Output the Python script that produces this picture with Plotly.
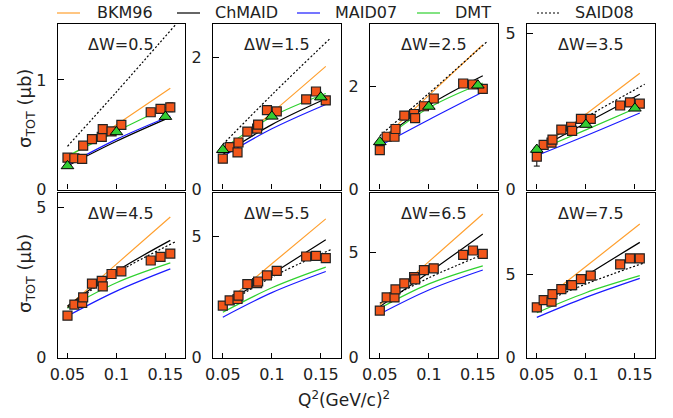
import plotly.graph_objects as go

W, H = 673, 418

# ---------------- data ----------------
q2_data = [0.050, 0.057, 0.065, 0.066, 0.075, 0.085, 0.086, 0.095, 0.105, 0.135, 0.145, 0.155]
q2_tri = [0.05, 0.10, 0.15]
q2_model = [0.05, 0.10, 0.155]
q2_said = [0.05, 0.10, 0.16]

dw_labels = ["ΔW=0.5", "ΔW=1.5", "ΔW=2.5", "ΔW=3.5", "ΔW=4.5", "ΔW=5.5", "ΔW=6.5", "ΔW=7.5"]
y_tops = [1.51, 2.5, 3.2, 5.3, 5.5, 6.8, 7.85, 9.9]
y_major = [1, 2, 2, 5, 5, 5, 5, 5]
model_names = ["BKM96", "ChMAID", "MAID07", "DMT", "SAID08"]

# measured cross sections (squares)
sig_dw05 = [0.29, 0.285, 0.28, 0.40, 0.46, 0.48, 0.55, 0.53, 0.59, 0.705, 0.735, 0.75]
sig_dw15 = [0.465, 0.64, 0.56, 0.71, 0.875, 0.92, 0.98, 1.20, 1.18, 1.36, 1.48, 1.345]
sig_dw25 = [0.76, 1.02, 1.02, 1.17, 1.43, 1.46, 1.38, 1.61, 1.76, 2.05, 2.03, 1.945]
sig_dw35 = [1.05, 1.43, 1.50, 1.60, 1.92, 2.01, 1.88, 2.26, 2.26, 2.69, 2.79, 2.75]
sig_dw45 = [1.40, 1.77, 1.83, 2.01, 2.47, 2.56, 2.38, 2.79, 2.88, 3.24, 3.36, 3.47]
sig_dw55 = [2.15, 2.36, 2.42, 2.56, 3.03, 3.07, 3.14, 3.39, 3.58, 4.17, 4.20, 4.10]
sig_dw65 = [2.24, 2.87, 2.87, 3.25, 3.54, 3.83, 3.73, 4.17, 4.25, 4.89, 5.10, 4.94]
sig_dw75 = [3.02, 3.46, 3.36, 3.82, 4.12, 4.36, 4.36, 4.72, 4.92, 5.60, 5.96, 5.96]

err_dw05 = [0, 0, 0, 0, 0, 0, 0, 0, 0, 0.03, 0.03, 0.04]
err_dw35 = [0.30, 0, 0, 0, 0, 0, 0, 0, 0, 0, 0, 0]
err_zero = [0] * 12

# other measurement (triangles), first row only
tri_dw05 = [0.215, 0.525, 0.665]
tri_dw15 = [0.60, 1.105, 1.395]
tri_dw25 = [0.92, 1.605, 2.015]
tri_dw35 = [1.28, 2.08, 2.60]

# model curves, values at q2_model (SAID08 at q2_said)
bkm96 = [[0.29, 0.59, 0.924], [0.55, 1.16, 1.86], [0.93, 1.82, 2.80], [1.24, 2.41, 3.72],
         [1.70, 3.12, 4.69], [2.18, 3.87, 5.72], [2.51, 4.57, 6.84], [3.16, 5.47, 8.02]]
chmaid = [[0.215, 0.44, 0.66], [0.53, 0.98, 1.37], [0.94, 1.63, 2.20], [1.28, 2.13, 3.05],
          [1.72, 2.88, 3.91], [2.18, 3.45, 4.86], [2.43, 4.05, 5.89], [3.02, 4.92, 6.92]]
maid07 = [[0.225, 0.457, 0.67], [0.50, 0.917, 1.285], [0.846, 1.35, 1.885], [1.085, 1.72, 2.45],
          [1.39, 2.22, 2.96], [1.67, 2.68, 3.55], [2.08, 3.22, 4.17], [2.42, 3.62, 4.76]]
dmt = [[0.305, 0.53, 0.768], [0.615, 1.10, 1.45], [0.91, 1.58, 2.06], [1.24, 1.91, 2.66],
       [1.65, 2.50, 3.16], [1.87, 2.88, 3.73], [2.35, 3.51, 4.37], [2.70, 3.90, 4.92]]
said08 = [[0.394, 0.89, 1.50], [0.68, 1.43, 2.29], [1.04, 1.86, 2.87], [1.35, 2.31, 3.37],
          [1.67, 2.82, 3.86], [2.11, 3.32, 4.45], [2.59, 3.80, 5.00], [3.16, 4.42, 5.70]]

sig_all = [sig_dw05, sig_dw15, sig_dw25, sig_dw35, sig_dw45, sig_dw55, sig_dw65, sig_dw75]
err_all = [err_dw05, err_zero, err_zero, err_dw35, err_zero, err_zero, err_zero, err_zero]
tri_all = [tri_dw05, tri_dw15, tri_dw25, tri_dw35, None, None, None, None]

# ---------------- style ----------------
FONT = "DejaVu Sans, Verdana, sans-serif"
FS = 16
TXT = "#222"
C_BKM = "#ffa030"
C_CHM = "#000000"
C_MAID = "#1a1aff"
C_DMT = "#2fd12f"
C_SQ = "#f2561a"
C_TRI = "#33cc33"

col_px = [(57.7, 185.0), (213.0, 340.5), (370.0, 497.5), (527.0, 654.5)]
row_px = [(24.0, 189.5), (192.7, 357.7)]

line_styles = [dict(color=C_BKM, width=1.2), dict(color=C_CHM, width=1.2),
               dict(color=C_MAID, width=1.2), dict(color=C_DMT, width=1.2),
               dict(color="black", width=1.2, dash="2px,2px")]
model_vals = [bkm96, chmaid, maid07, dmt, said08]
model_x = [q2_model, q2_model, q2_model, q2_model, q2_said]

fig = go.Figure()
layout = {}
annotations = []
shapes = []

for i in range(8):
    r, c = divmod(i, 4)
    n = "" if i == 0 else str(i + 1)
    xa, ya = "x" + n, "y" + n
    x0, x1 = col_px[c]
    y0, y1 = row_px[r]
    layout["xaxis" + n] = dict(
        domain=[x0 / W, x1 / W], range=[0.04, 0.17], anchor=ya,
        tickvals=[0.05, 0.1, 0.15], ticktext=["0.05", "0.1", "0.15"],
        showticklabels=(r == 1), ticks="inside", ticklen=5, tickwidth=1, tickcolor="black",
        showline=True, mirror=True, linecolor="black", linewidth=1.3,
        showgrid=False, zeroline=False, fixedrange=True, ticklabelstandoff=2,
        tickfont=dict(family=FONT, size=FS, color=TXT),
    )
    layout["yaxis" + n] = dict(
        domain=[1 - y1 / H, 1 - y0 / H], range=[0, y_tops[i]], anchor=xa,
        tickvals=[0, y_major[i]], ticktext=["0", str(y_major[i])],
        ticks="inside", ticklen=6, tickwidth=1, tickcolor="black",
        showline=True, mirror=True, linecolor="black", linewidth=1.3,
        showgrid=False, zeroline=False, fixedrange=True, ticklabelstandoff=7,
        tickfont=dict(family=FONT, size=FS, color=TXT),
    )
    for k in range(5):
        fig.add_trace(go.Scatter(x=model_x[k], y=model_vals[k][i], mode="lines", xaxis=xa, yaxis=ya,
                                 line=dict(shape="spline", **line_styles[k]),
                                 name=model_names[k], showlegend=False))
    fig.add_trace(go.Scatter(x=q2_data, y=sig_all[i], mode="markers", xaxis=xa, yaxis=ya,
                             error_y=dict(type="data", array=err_all[i], color="black",
                                          thickness=1, width=3, visible=True),
                             marker=dict(symbol="square", size=9, color=C_SQ,
                                         line=dict(color="#222", width=1.2)),
                             showlegend=False))
    if tri_all[i] is not None:
        fig.add_trace(go.Scatter(x=q2_tri, y=tri_all[i], mode="markers", xaxis=xa, yaxis=ya,
                                 marker=dict(symbol="triangle-up", size=11, color=C_TRI,
                                             line=dict(color="black", width=1)),
                                 showlegend=False))
    ly = 44.7 if r == 0 else 213.3
    annotations.append(dict(text=dw_labels[i], x=(x0 + x1) / 2 / W, y=1 - ly / H,
                            xref="paper", yref="paper", showarrow=False,
                            xanchor="center", yanchor="middle",
                            font=dict(family=FONT, size=FS, color=TXT)))

# legend row (samples + labels)
leg_line_x = [57, 177, 297, 417, 537]
leg_text_x = [95, 213, 333, 453, 573]
leg_y = 13
for k in range(5):
    shapes.append(dict(type="line", xref="paper", yref="paper",
                       x0=leg_line_x[k] / W, x1=(leg_line_x[k] + 23) / W,
                       y0=1 - leg_y / H, y1=1 - leg_y / H, line=line_styles[k]))
    annotations.append(dict(text=model_names[k], x=leg_text_x[k] / W, y=1 - leg_y / H,
                            xref="paper", yref="paper", showarrow=False,
                            xanchor="left", yanchor="middle",
                            font=dict(family=FONT, size=FS, color=TXT)))

for yc in (109, 274):
    annotations.append(dict(text="σ<sub>TOT</sub> (μb)", x=26 / W, y=1 - yc / H,
                            xref="paper", yref="paper", showarrow=False, textangle=-90,
                            xanchor="center", yanchor="middle",
                            font=dict(family=FONT, size=18, color=TXT)))
annotations.append(dict(text="Q<sup>2</sup>(GeV/c)<sup>2</sup>", x=344 / W, y=1 - 399 / H,
                        xref="paper", yref="paper", showarrow=False,
                        xanchor="center", yanchor="middle",
                        font=dict(family=FONT, size=17, color=TXT)))

fig.update_layout(
    width=W, height=H, margin=dict(l=0, r=0, t=0, b=0, autoexpand=False),
    paper_bgcolor="white", plot_bgcolor="white",
    annotations=annotations, shapes=shapes, showlegend=False,
    **layout,
)

fig.write_html("out.html", config={"displayModeBar": False},
               post_script="document.body.style.margin='0px';")
